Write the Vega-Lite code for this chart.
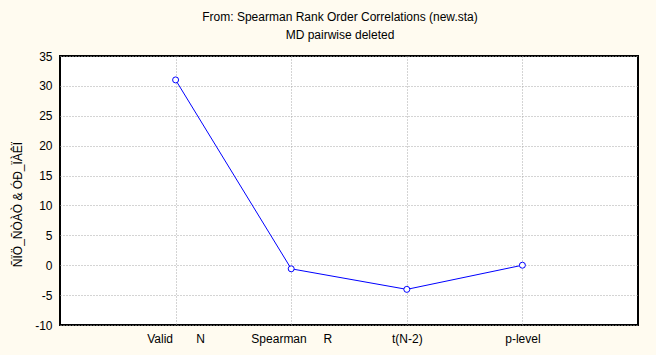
{
  "$schema": "https://vega.github.io/schema/vega-lite/v6.json",
  "autosize": {"type": "none"},
  "padding": {"left": 60, "top": 56, "right": 18, "bottom": 30},
  "width": 578,
  "height": 269,
  "background": "#FFFBF0",
  "title": {
    "text": ["From: Spearman Rank Order Correlations (new.sta)", "MD pairwise deleted"],
    "font": "Liberation Sans",
    "fontSize": 12,
    "fontWeight": "normal",
    "color": "#000000",
    "anchor": "middle",
    "dx": -9,
    "offset": 8,
    "lineHeight": 18
  },
  "config": {
    "view": {"stroke": "#000000", "strokeWidth": 2, "fill": "#FFFFFF"},
    "axis": {
      "labelFont": "Liberation Sans",
      "labelFontSize": 12,
      "labelColor": "#000000",
      "titleFont": "Liberation Sans",
      "titleFontSize": 12,
      "titleFontWeight": "normal",
      "titleColor": "#000000",
      "domain": false,
      "ticks": false,
      "grid": true,
      "gridColor": "#a8a8a8",
      "gridDash": [1, 2],
      "gridWidth": 1
    }
  },
  "data": {
    "values": [
      {"stat": "Valid\u00a0\u00a0\u00a0\u00a0\u00a0\u00a0\u00a0N", "value": 31},
      {"stat": "Spearman\u00a0\u00a0\u00a0\u00a0\u00a0R", "value": -0.6},
      {"stat": "t(N-2)", "value": -4.04},
      {"stat": "p-level", "value": 0.0004}
    ]
  },
  "encoding": {
    "x": {
      "field": "stat",
      "type": "nominal",
      "sort": null,
      "scale": {"type": "point", "padding": 1},
      "axis": {"title": null, "labelAngle": 0, "labelPadding": 8}
    },
    "y": {
      "field": "value",
      "type": "quantitative",
      "scale": {"domain": [-10, 35], "nice": false, "zero": false},
      "axis": {
        "title": "ÑÏÖ_ÑÒÀÒ & ÓÐ_ÏÀÊÏ",
        "values": [-10, -5, 0, 5, 10, 15, 20, 25, 30, 35],
        "labelExpr": "replace(datum.label, '\u2212', '-')",
        "labelPadding": 8,
        "titlePadding": 10,
        "titleY": 148
      }
    }
  },
  "layer": [
    {"mark": {"type": "line", "color": "#0000FF", "strokeWidth": 1}},
    {"mark": {"type": "point", "shape": "circle", "size": 36, "filled": true, "fill": "#FFFFFF", "stroke": "#0000FF", "strokeWidth": 1, "opacity": 1}}
  ]
}
